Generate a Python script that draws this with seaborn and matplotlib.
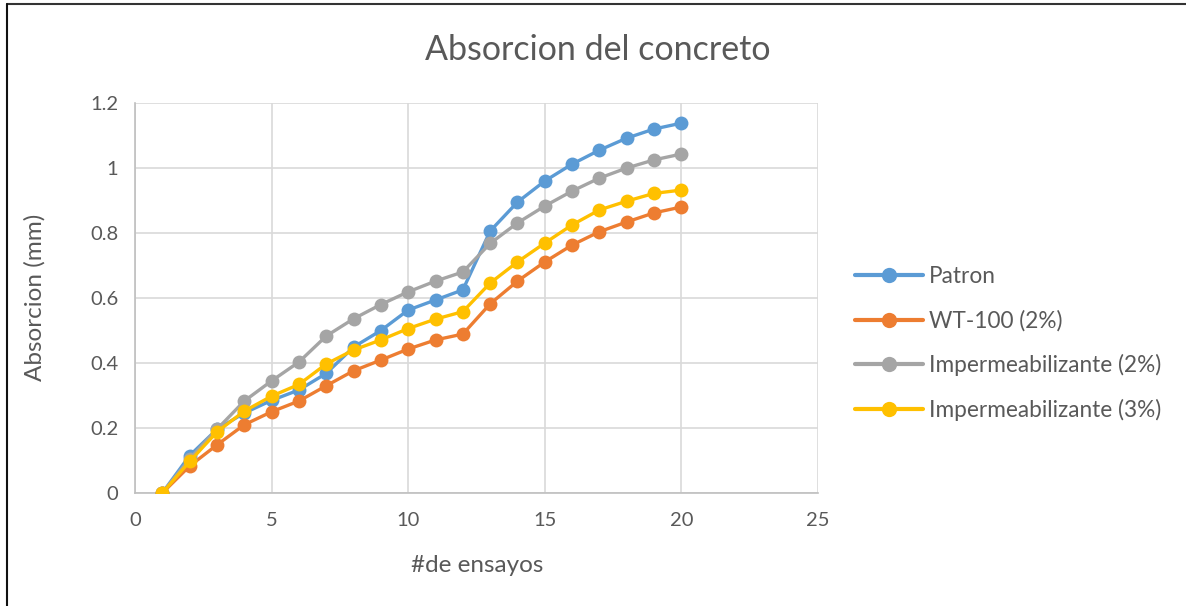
import numpy as np
import pandas as pd
import matplotlib
matplotlib.use('Agg')
import matplotlib.pyplot as plt
import seaborn as sns
from matplotlib.lines import Line2D

# datos
ensayos = list(range(1, 21))
patron = [0, 0.115, 0.196, 0.246, 0.285, 0.317, 0.368, 0.449, 0.50, 0.563,
          0.594, 0.625, 0.806, 0.895, 0.960, 1.012, 1.055, 1.092, 1.120, 1.138]
wt100 = [0, 0.083, 0.148, 0.210, 0.250, 0.283, 0.330, 0.376, 0.409, 0.443,
         0.471, 0.489, 0.582, 0.652, 0.711, 0.763, 0.804, 0.834, 0.862, 0.880]
imp2 = [0, 0.105, 0.196, 0.283, 0.345, 0.403, 0.483, 0.536, 0.580, 0.619,
        0.652, 0.680, 0.768, 0.831, 0.883, 0.929, 0.969, 1.000, 1.025, 1.043]
imp3 = [0, 0.097, 0.188, 0.252, 0.298, 0.334, 0.397, 0.440, 0.471, 0.506,
        0.535, 0.558, 0.646, 0.711, 0.769, 0.825, 0.871, 0.898, 0.922, 0.932]

series = ['Patron', 'WT-100 (2%)', 'Impermeabilizante (2%)', 'Impermeabilizante (3%)']
colores = ['#5B9BD5', '#ED7D31', '#A5A5A5', '#FFC000']

df = pd.DataFrame({
    'ensayo': ensayos * 4,
    'absorcion': patron + wt100 + imp2 + imp3,
    'serie': np.repeat(series, len(ensayos)),
})

sns.set_style('white')
plt.rcParams['font.family'] = ['Lato', 'DejaVu Sans']
texto = '#595959'

fig = plt.figure(figsize=(11.86, 6.06), dpi=100)
W, H = 1186, 606
ax = fig.add_axes([135 / W, 1 - 493 / H, (818 - 135) / W, (493 - 103) / H])

sns.lineplot(data=df, x='ensayo', y='absorcion', hue='serie', hue_order=series,
             palette=colores, marker='o', markersize=10, markeredgewidth=0,
             linewidth=2.4, ax=ax, zorder=3)

ax.set_xlim(0, 25)
ax.set_ylim(0, 1.2)
ax.set_xticks([0, 5, 10, 15, 20, 25])
ax.set_yticks([0, 0.2, 0.4, 0.6, 0.8, 1.0, 1.2])
ax.set_yticklabels(['0', '0.2', '0.4', '0.6', '0.8', '1', '1.2'])
ax.grid(True, color='#D9D9D9', linewidth=1.2)
for s in ['top', 'right']:
    ax.spines[s].set_visible(False)
for s in ['left', 'bottom']:
    ax.spines[s].set_color('#BFBFBF')
    ax.spines[s].set_linewidth(1.2)
ax.tick_params(axis='both', length=0, labelsize=14.5, colors=texto, pad=14)
ax.tick_params(axis='y', pad=12)
ax.set_xlabel('')
ax.set_ylabel('')

fig.text(598 / W, 1 - 50 / H, 'Absorcion del concreto', ha='center', va='center',
         fontsize=24.5, color=texto)
fig.text(477 / W, 1 - 565 / H, '#de ensayos', ha='center', va='center',
         fontsize=17.5, color=texto)
fig.text(35 / W, 1 - 297 / H, 'Absorcion (mm)', ha='center', va='center',
         rotation=90, fontsize=17.5, color=texto)

handles, labels = ax.get_legend_handles_labels()
for h in handles:
    h.set_linewidth(3)
    h.set_markersize(11)
leg = ax.legend(handles, labels, loc='center left', bbox_to_anchor=(1.025, 0.383),
                frameon=False, fontsize=16.3, labelcolor=texto, handlelength=3.0,
                handletextpad=0.25, labelspacing=1.0)

# marco exterior
fig.add_artist(Line2D([7 / W, 1], [1 - 4 / H, 1 - 4 / H], color='#333333', linewidth=1.5))
fig.add_artist(Line2D([7 / W, 7 / W], [0, 1 - 4 / H], color='#111111', linewidth=1.5))

fig.savefig('out.png', dpi=100)
